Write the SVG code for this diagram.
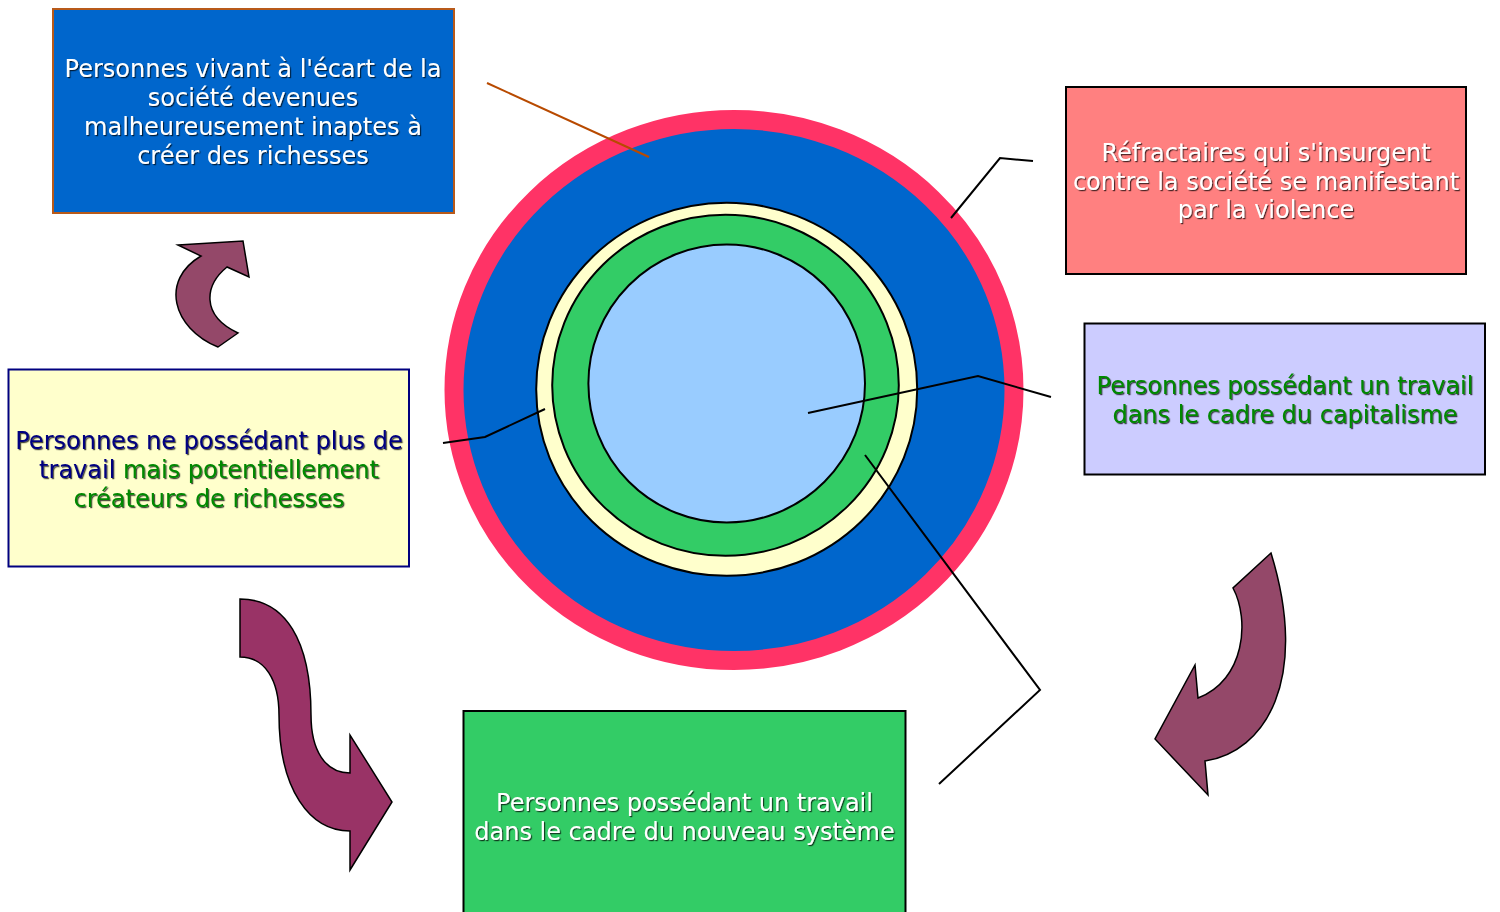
<svg xmlns="http://www.w3.org/2000/svg" width="1500" height="912" viewBox="0 0 1500 912">
<defs>
<filter id="sh" x="-5%" y="-20%" width="110%" height="140%">
<feDropShadow dx="1.2" dy="1.2" stdDeviation="0.4" flood-color="#000" flood-opacity="0.7"/>
</filter>
<style>
text{font-family:"DejaVu Sans","Verdana",sans-serif;font-size:24px;text-anchor:middle;filter:url(#sh)}
.w{fill:#ffffff}
.g{fill:#008800}
.n{fill:#000080}
.box{stroke-width:2}
.arr{stroke:#000;stroke-width:1.5;stroke-linejoin:miter}
.ln{fill:none;stroke:#000;stroke-width:2}
</style>
</defs>
<rect width="1500" height="912" fill="#fff"/>

<g id="target">
<ellipse cx="734" cy="390" rx="280" ry="270.5" fill="#0066cc" stroke="#ff3366" stroke-width="19"/>
<ellipse cx="726.7" cy="389.3" rx="190.5" ry="186.5" fill="#ffffcc" stroke="#000" stroke-width="2"/>
<ellipse cx="725.5" cy="385.3" rx="173.3" ry="170.5" fill="#33cc66" stroke="#000" stroke-width="2"/>
<ellipse cx="726.7" cy="383.5" rx="138.3" ry="139" fill="#99ccff" stroke="#000" stroke-width="2"/>
</g>

<g id="connectors">
<line x1="487" y1="83" x2="649" y2="157" stroke="#b84a00" stroke-width="2"/>
<polyline class="ln" points="951,218 1000,158 1033,161"/>
<polyline class="ln" points="808,413 978,376 1051,397"/>
<polyline class="ln" points="865,455 1040,690 939,784"/>
<polyline class="ln" points="443,443 485,437 545,409" stroke="#000080"/>
</g>

<g id="box-ecart">
<rect class="box" x="53" y="9" width="401" height="204" fill="#0066cc" stroke="#b85a1a"/>
<text class="w"><tspan x="253" y="77">Personnes vivant à l'écart de la</tspan><tspan x="253" y="106">société devenues</tspan><tspan x="253" y="135">malheureusement inaptes à</tspan><tspan x="253" y="164">créer des richesses</tspan></text>
</g>

<g id="box-refractaires">
<rect class="box" x="1066" y="87" width="400" height="187" fill="#ff8080" stroke="#000"/>
<text class="w"><tspan x="1266" y="161">Réfractaires qui s'insurgent</tspan><tspan x="1266" y="189.5">contre la société se manifestant</tspan><tspan x="1266" y="218">par la violence</tspan></text>
</g>

<g id="box-capitalisme">
<rect class="box" x="1084.5" y="323.5" width="400.5" height="151" fill="#ccccff" stroke="#000"/>
<text class="g"><tspan x="1285" y="394">Personnes possédant un travail</tspan><tspan x="1285" y="423">dans le cadre du capitalisme</tspan></text>
</g>

<g id="box-sans-travail">
<rect class="box" x="8.5" y="369.5" width="400.5" height="197" fill="#ffffcc" stroke="#000080"/>
<text><tspan class="n" x="209" y="449">Personnes ne possédant plus de</tspan><tspan class="n" x="209" y="478">travail <tspan class="g">mais potentiellement</tspan></tspan><tspan class="g" x="209" y="507">créateurs de richesses</tspan></text>
</g>

<g id="box-nouveau">
<rect class="box" x="463.5" y="711" width="442" height="220" fill="#33cc66" stroke="#000"/>
<text class="w"><tspan x="684.5" y="811">Personnes possédant un travail</tspan><tspan x="684.5" y="840">dans le cadre du nouveau système</tspan></text>
</g>

<g id="arrow-up">
<path class="arr" fill="#944869" d="M178,245 L243,241 L249,277 L227,267 C205,285 200,315 238,333 L218,347 C172,328 160,280 201,256 Z"/>
</g>

<g id="arrow-s">
<path class="arr" fill="#993366" d="M240,599 L240,657 C265,657 279,680 279,715 C279,790 310,831 350,831 L350,870 L392,802 L350,735 L350,773 C325,773 311,750 311,715 C311,640 285,599 240,599 Z"/>
</g>

<g id="arrow-right">
<path class="arr" fill="#944869" d="M1271,553 L1233,588 C1250,620 1245,680 1198,698 L1195,665 L1155,739 L1208,795 L1205,761 C1265,752 1310,680 1271,553 Z"/>
</g>
</svg>
